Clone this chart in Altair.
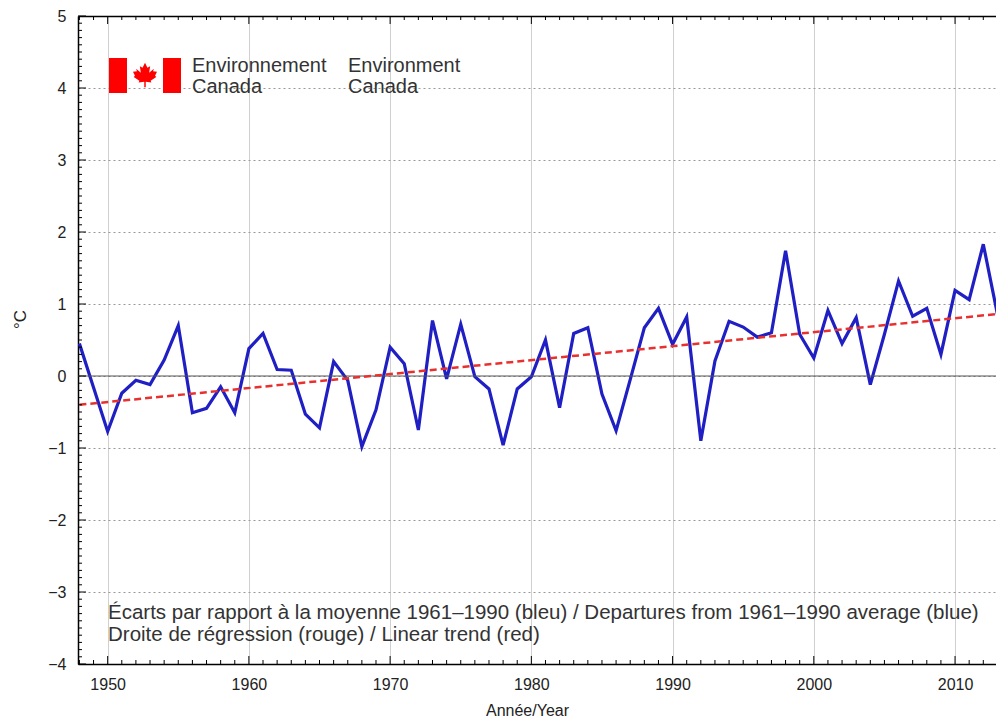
import altair as alt
import pandas as pd

# ---- data ----
years = list(range(1948, 2015))
departures = [
    0.45, -0.16, -0.77, -0.24, -0.06, -0.12, 0.22, 0.70, -0.51, -0.45,   # 1948-1957
    -0.15, -0.51, 0.38, 0.59, 0.09, 0.08, -0.53, -0.72, 0.20, -0.06,     # 1958-1967
    -0.98, -0.47, 0.40, 0.17, -0.75, 0.77, -0.04, 0.72, -0.01, -0.18,    # 1968-1977
    -0.96, -0.18, -0.01, 0.50, -0.44, 0.59, 0.67, -0.25, -0.76, -0.05,   # 1978-1987
    0.67, 0.94, 0.44, 0.82, -0.90, 0.21, 0.76, 0.68, 0.54, 0.60,         # 1988-1997
    1.74, 0.58, 0.25, 0.91, 0.45, 0.81, -0.12, 0.58, 1.32, 0.83,         # 1998-2007
    0.94, 0.30, 1.19, 1.06, 1.83, 0.86, 1.00,                            # 2008-2014
]
trend_years = [1948, 2014]
trend_values = [-0.40, 0.88]

x_tick_labels = [1950, 1960, 1970, 1980, 1990, 2000, 2010]
y_tick_labels = [-4, -3, -2, -1, 0, 1, 2, 3, 4, 5]

line1 = "Écarts par rapport à la moyenne 1961–1990 (bleu) / Departures from 1961–1990 average (blue)"
line2 = "Droite de régression (rouge) / Linear trend (red)"
logo_fr = ["Environnement", "Canada"]
logo_en = ["Environment", "Canada"]

# ---- layout ----
W, H = 918, 648
FONT = "Liberation Sans"
xscale = alt.Scale(domain=[1947.9, 2012.9], nice=False, zero=False)
yscale = alt.Scale(domain=[-4, 5], nice=False, zero=False)

df = pd.DataFrame({"year": years, "dep": departures})
trend = pd.DataFrame({"year": trend_years, "dep": trend_values})
one = pd.DataFrame({"a": [0]})

x_axis = alt.Axis(values=x_tick_labels, format="d", grid=True, gridColor="#d0d0d0",
                  gridWidth=1, ticks=False, domain=True, domainColor="#000",
                  domainWidth=1.5, labelFont=FONT, labelFontSize=16,
                  labelColor="#222", labelPadding=12, title="Année/Year",
                  titleFont=FONT, titleFontSize=16, titleFontWeight="normal",
                  titleColor="#222", titlePadding=10, titleX=449)
y_axis = alt.Axis(values=y_tick_labels, grid=True, gridColor="#999",
                  gridDash=[2, 3], gridWidth=1, ticks=False, domain=True,
                  domainColor="#000", domainWidth=1.5, labelFont=FONT,
                  labelFontSize=16, labelColor="#222", labelPadding=12,
                  title="°C", titleFont=FONT, titleFontSize=17,
                  titleFontWeight="normal", titleColor="#222", titleAngle=-90,
                  titleAlign="center", titleBaseline="middle", titleX=-58,
                  titleY=303)

blue = alt.Chart(df).mark_line(color="#1f1fc4", strokeWidth=3.2, clip=True).encode(
    x=alt.X("year:Q", scale=xscale, axis=x_axis),
    y=alt.Y("dep:Q", scale=yscale, axis=y_axis),
)

zero = alt.Chart(pd.DataFrame({"v": [0]})).mark_rule(color="#555", strokeWidth=1).encode(
    y=alt.Y("v:Q", scale=yscale, axis=None)
)

red = alt.Chart(trend).mark_line(color="#e8312f", strokeWidth=2.5,
                                 strokeDash=[7, 4], clip=True).encode(
    x=alt.X("year:Q", scale=xscale, axis=None),
    y=alt.Y("dep:Q", scale=yscale, axis=None),
)

# top frame line (axis domain only)
top_axis = alt.Chart(one).mark_point(opacity=0).encode(
    x=alt.X("a:Q", scale=xscale,
            axis=alt.Axis(orient="top", labels=False, ticks=False, grid=False,
                          domain=True, domainColor="#000", domainWidth=1.5,
                          title=None)),
)

# inward ticks
yr_ticks = [y for y in range(1948, 2013)]
xt_minor = pd.DataFrame({"t": [y for y in yr_ticks if y % 10]})
xt_major = pd.DataFrame({"t": [y for y in yr_ticks if y % 10 == 0]})
yv = [round(-4 + 0.1 * i, 1) for i in range(91)]
yt_minor = pd.DataFrame({"t": [v for v in yv if abs(v - round(v)) > 1e-6]})
yt_major = pd.DataFrame({"t": [v for v in yv if abs(v - round(v)) < 1e-6]})

def xticks(d, y0, y1):
    return alt.Chart(d).mark_rule(color="#000", strokeWidth=1).encode(
        x=alt.X("t:Q", scale=xscale, axis=None), y=alt.value(y0), y2=alt.value(y1))

def yticks(d, x0, x1):
    return alt.Chart(d).mark_rule(color="#000", strokeWidth=1).encode(
        y=alt.Y("t:Q", scale=yscale, axis=None), x=alt.value(x0), x2=alt.value(x1))

ticks = [
    xticks(xt_minor, H, H - 4), xticks(xt_major, H, H - 8),
    xticks(xt_minor, 0, 4), xticks(xt_major, 0, 8),
    yticks(yt_minor, 0, 4), yticks(yt_major, 0, 8),
]

# annotations
def txt(s, x, y, size, color="#333"):
    return alt.Chart(pd.DataFrame({"s": [s]})).mark_text(
        align="left", baseline="middle", font=FONT, fontSize=size, color=color
    ).encode(x=alt.value(x), y=alt.value(y), text="s:N")

notes = [txt(line1, 30, 597, 20.5), txt(line2, 30, 619, 20.5)]
logo_txt = [txt(logo_fr[0], 114, 50, 20), txt(logo_fr[1], 114, 71, 20),
            txt(logo_en[0], 270, 50, 20), txt(logo_en[1], 270, 71, 20)]

def rect(x0, x1, y0, y1):
    return alt.Chart(one).mark_rect(color="#ff0000").encode(
        x=alt.value(x0), x2=alt.value(x1), y=alt.value(y0), y2=alt.value(y1))

leaf_path = ("M0,-1 L0.2,-0.6 L0.42,-0.72 L0.34,-0.18 L0.72,-0.52 L0.66,-0.3 "
             "L0.98,-0.26 L0.82,0.06 L0.92,0.16 L0.46,0.46 L0.52,0.62 L0.06,0.55 "
             "L0.06,1 L-0.06,1 L-0.06,0.55 L-0.52,0.62 L-0.46,0.46 L-0.92,0.16 "
             "L-0.82,0.06 L-0.98,-0.26 L-0.66,-0.3 L-0.72,-0.52 L-0.34,-0.18 "
             "L-0.42,-0.72 L-0.2,-0.6 Z")
leaf = alt.Chart(one).mark_point(shape=leaf_path, filled=True, color="#ff0000",
                                 size=600, opacity=1, strokeWidth=0).encode(
    x=alt.value(67), y=alt.value(59))
flag = [rect(31, 49, 42, 77), rect(85, 103, 42, 77), leaf]

chart = alt.layer(
    blue, zero, red, top_axis, *ticks, *notes, *logo_txt, *flag
).resolve_axis(x="independent", y="independent").properties(
    width=W, height=H,
    autosize=alt.AutoSizeParams(type="none"),
    padding={"left": 70, "top": 8, "right": 0, "bottom": 59},
    background="white",
).configure_view(stroke=None)

chart.save("out.html", embed_options={"renderer": "svg", "actions": False})
